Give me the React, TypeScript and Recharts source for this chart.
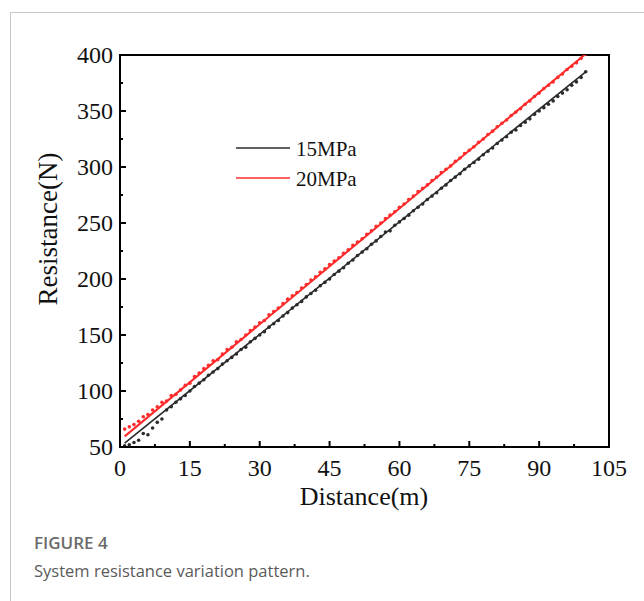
import React from 'react';
import { ComposedChart, Scatter, XAxis, YAxis, ReferenceArea } from 'recharts';

// x positions of the measured points (m)
const distance = [
  1, 2, 3, 4, 5, 6, 7, 8, 9, 10, 11, 12, 13, 14, 15, 16, 17, 18, 19, 20,
  21, 22, 23, 24, 25, 26, 27, 28, 29, 30, 31, 32, 33, 34, 35, 36, 37, 38, 39, 40,
  41, 42, 43, 44, 45, 46, 47, 48, 49, 50, 51, 52, 53, 54, 55, 56, 57, 58, 59, 60,
  61, 62, 63, 64, 65, 66, 67, 68, 69, 70, 71, 72, 73, 74, 75, 76, 77, 78, 79, 80,
  81, 82, 83, 84, 85, 86, 87, 88, 89, 90, 91, 92, 93, 94, 95, 96, 97, 98, 99, 100,
];

const resistance15 = [
  51, 52, 54, 56, 62, 61, 67, 72, 75, 83, 86, 90, 93, 96, 100, 104, 107, 110, 114, 117,
  120, 124, 127, 130, 133, 137, 139, 144, 147, 150, 153, 157, 160, 163, 167, 170, 174, 177, 180, 184,
  187, 190, 194, 197, 200, 204, 207, 210, 214, 217, 221, 224, 227, 231, 234, 238, 242, 243, 248, 251,
  254, 257, 261, 264, 267, 271, 274, 277, 281, 284, 288, 291, 294, 298, 301, 304, 307, 311, 314, 317,
  321, 324, 327, 331, 333, 337, 340, 343, 347, 350, 353, 356, 359, 363, 366, 369, 373, 376, 380, 385,
];

const resistance20 = [
  66, 68, 70, 73, 77, 79, 83, 86, 90, 91, 96, 97, 101, 105, 107, 113, 116, 120, 123, 127,
  128, 133, 137, 139, 144, 146, 150, 154, 157, 161, 163, 168, 171, 174, 178, 182, 185, 188, 192, 195,
  199, 202, 206, 209, 213, 216, 219, 223, 226, 230, 233, 236, 240, 243, 247, 250, 254, 257, 260, 264,
  267, 271, 274, 278, 281, 284, 288, 291, 295, 298, 301, 305, 308, 312, 315, 318, 322, 325, 329, 332,
  336, 339, 342, 346, 349, 352, 356, 359, 363, 366, 370, 373, 376, 380, 383, 387, 390, 393, 397, 401,
];

// fitted lines (start / end)
const fitX = [1, 100];
const fit15 = [53.4, 385];
const fit20 = [59.5, 401];

const xTicks = [0, 7.5, 15, 22.5, 30, 37.5, 45, 52.5, 60, 67.5, 75, 82.5, 90, 97.5, 105];
const yTicks = [50, 75, 100, 125, 150, 175, 200, 225, 250, 275, 300, 325, 350, 375, 400];

const points15 = distance.map((d, i) => ({ x: d, y: resistance15[i] }));
const points20 = distance.map((d, i) => ({ x: d, y: resistance20[i] }));
const line15 = fitX.map((d, i) => ({ x: d, y: fit15[i] }));
const line20 = fitX.map((d, i) => ({ x: d, y: fit20[i] }));

const serif = '"Liberation Serif", "Times New Roman", serif';
const BLACK = '#2b2b2b';
const RED = '#ff2b2b';

const XTick = (props: any) => {
  const { x, y, payload } = props;
  const major = payload.value % 15 === 0;
  return (
    <g>
      <line x1={x} x2={x} y1={y} y2={y - (major ? 6 : 3)} stroke="#000" strokeWidth={2} />
      {major && (
        <text x={x} y={y + 29} textAnchor="middle" fontFamily={serif} fontSize={24} fill="#111">
          {payload.value}
        </text>
      )}
    </g>
  );
};

const YTick = (props: any) => {
  const { x, y, payload } = props;
  const major = payload.value % 50 === 0;
  return (
    <g>
      <line x1={x} x2={x + (major ? 6 : 3)} y1={y} y2={y} stroke="#000" strokeWidth={2} />
      {major && (
        <text x={x - 7} y={y + 8} textAnchor="end" fontFamily={serif} fontSize={24} fill="#111">
          {payload.value}
        </text>
      )}
    </g>
  );
};

const dot = (color: string) => (p: any) => <circle cx={p.cx} cy={p.cy} r={1.8} fill={color} />;

export default function App() {
  return (
    <div style={{ position: 'absolute', left: 0, top: 0, width: 644, height: 601, background: '#fff' }}>
      <div style={{ position: 'absolute', left: 10, top: 12, width: 634, height: 589, borderLeft: '1px solid #c8c8c8', borderTop: '1px solid #c8c8c8' }} />
      <div style={{ position: 'absolute', left: 0, top: 0 }}>
        <ComposedChart width={644} height={520} margin={{ top: 55, right: 35, bottom: 33, left: 60 }}>
          <XAxis
            type="number"
            dataKey="x"
            domain={[0, 105]}
            ticks={xTicks}
            interval={0}
            tickSize={0}
            tickMargin={0}
            tickLine={false}
            tick={<XTick />}
            height={40}
            axisLine={{ stroke: '#000', strokeWidth: 2 }}
            allowDataOverflow
          />
          <YAxis
            type="number"
            dataKey="y"
            domain={[50, 400]}
            ticks={yTicks}
            interval={0}
            tickSize={0}
            tickMargin={0}
            tickLine={false}
            tick={<YTick />}
            width={60}
            axisLine={{ stroke: '#000', strokeWidth: 2 }}
            allowDataOverflow
          />
          <ReferenceArea x1={0} x2={105} y1={50} y2={400} stroke="#000" strokeWidth={2} fill="none" fillOpacity={0} />
          <Scatter name="15MPa" data={points15} shape={dot(BLACK)} isAnimationActive={false} />
          <Scatter name="20MPa" data={points20} shape={dot(RED)} isAnimationActive={false} />
          <Scatter data={line15} line={{ stroke: BLACK, strokeWidth: 1.6 }} shape={() => null} isAnimationActive={false} />
          <Scatter data={line20} line={{ stroke: RED, strokeWidth: 2 }} shape={() => null} isAnimationActive={false} />
        </ComposedChart>
        <svg width={644} height={601} style={{ position: 'absolute', left: 0, top: 0, pointerEvents: 'none' }}>
          <line x1={236} x2={290} y1={148} y2={148} stroke={BLACK} strokeWidth={1.6} />
          <text x={296} y={156} fontFamily={serif} fontSize={21} fill="#111">15MPa</text>
          <line x1={236} x2={290} y1={178} y2={178} stroke={RED} strokeWidth={1.6} />
          <text x={296} y={186} fontFamily={serif} fontSize={21} fill="#111">20MPa</text>
          <text x={57} y={229} textAnchor="middle" fontFamily={serif} fontSize={27} fill="#111" transform="rotate(-90, 57, 229)">
            Resistance(N)
          </text>
          <text x={364} y={505} textAnchor="middle" fontFamily={serif} fontSize={26} fill="#111">
            Distance(m)
          </text>
          <text x={34} y={549} fontFamily='"Open Sans", sans-serif' fontWeight={600} fontSize={17} fill="#6a6a6a">
            FIGURE 4
          </text>
          <text x={34} y={577} fontFamily='"Open Sans", sans-serif' fontSize={16.5} fill="#5a5a5a">
            System resistance variation pattern.
          </text>
        </svg>
      </div>
    </div>
  );
}
